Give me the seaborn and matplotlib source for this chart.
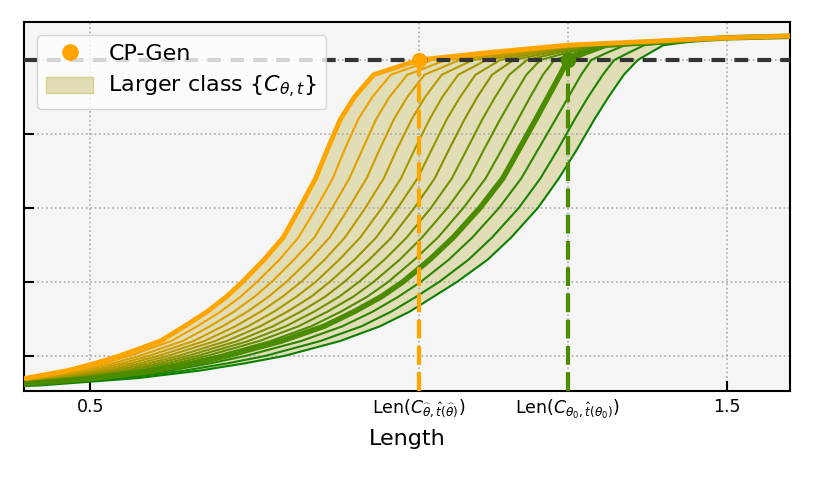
"""
Coverage against length for the class of prediction sets C_{theta,t}
"""

import numpy as np
import matplotlib
matplotlib.use("Agg")
import matplotlib.pyplot as plt
import matplotlib.colors as mcolors
from matplotlib.lines import Line2D
from matplotlib.patches import Patch
import seaborn as sns

# coverage levels shared by every curve
levels = [0.455, 0.46, 0.47, 0.48, 0.49, 0.50, 0.52, 0.54, 0.56, 0.58, 0.60, 0.63,
          0.66, 0.70, 0.74, 0.78, 0.82, 0.85, 0.88, 0.90, 0.91, 0.92, 0.93, 0.935]

# length reached at each level, CP-Gen (theta hat)
len_cpgen = [0.30, 0.33, 0.40, 0.464, 0.508, 0.546, 0.610, 0.648, 0.684, 0.714, 0.739, 0.773,
             0.803, 0.829, 0.854, 0.873, 0.893, 0.915, 0.945, 1.016, 1.125, 1.25, 1.50, 1.70]

# theta_0
len_theta0 = [0.30, 0.37, 0.51, 0.60, 0.662, 0.714, 0.80, 0.867, 0.915, 0.957, 0.991, 1.033,
              1.070, 1.112, 1.148, 1.174, 1.200, 1.219, 1.238, 1.25, 1.278, 1.31, 1.50, 1.75]

# the other members of the class, left to right
len_t1 = [0.30, 0.334, 0.41, 0.476, 0.522, 0.561, 0.627, 0.668, 0.705, 0.736, 0.762, 0.797,
          0.827, 0.855, 0.881, 0.900, 0.921, 0.943, 0.972, 1.037, 1.139, 1.255, 1.50, 1.705]
len_t2 = [0.30, 0.337, 0.42, 0.489, 0.536, 0.577, 0.645, 0.688, 0.726, 0.758, 0.785, 0.820,
          0.852, 0.880, 0.907, 0.928, 0.949, 0.970, 0.998, 1.059, 1.153, 1.261, 1.50, 1.709]
len_t3 = [0.30, 0.341, 0.43, 0.501, 0.550, 0.592, 0.662, 0.708, 0.747, 0.780, 0.808, 0.844,
          0.876, 0.906, 0.934, 0.955, 0.977, 0.998, 1.025, 1.080, 1.167, 1.266, 1.50, 1.714]
len_t4 = [0.30, 0.345, 0.44, 0.513, 0.564, 0.607, 0.679, 0.728, 0.768, 0.802, 0.831, 0.868,
          0.900, 0.932, 0.961, 0.982, 1.005, 1.026, 1.052, 1.101, 1.181, 1.272, 1.50, 1.718]
len_t5 = [0.30, 0.348, 0.45, 0.526, 0.578, 0.622, 0.696, 0.748, 0.789, 0.824, 0.854, 0.891,
          0.924, 0.958, 0.988, 1.010, 1.033, 1.053, 1.078, 1.122, 1.195, 1.277, 1.50, 1.723]
len_t6 = [0.30, 0.352, 0.46, 0.538, 0.592, 0.638, 0.714, 0.767, 0.810, 0.847, 0.876, 0.915,
          0.949, 0.983, 1.014, 1.037, 1.060, 1.081, 1.105, 1.144, 1.208, 1.283, 1.50, 1.727]
len_t7 = [0.30, 0.355, 0.47, 0.551, 0.606, 0.653, 0.731, 0.787, 0.831, 0.869, 0.899, 0.938,
          0.973, 1.009, 1.041, 1.064, 1.088, 1.108, 1.131, 1.165, 1.222, 1.288, 1.50, 1.732]
len_t8 = [0.30, 0.359, 0.48, 0.563, 0.620, 0.668, 0.748, 0.807, 0.852, 0.891, 0.922, 0.962,
          0.997, 1.035, 1.068, 1.092, 1.116, 1.136, 1.158, 1.186, 1.236, 1.294, 1.50, 1.736]
len_t9 = [0.30, 0.363, 0.49, 0.575, 0.634, 0.683, 0.765, 0.827, 0.873, 0.913, 0.945, 0.986,
          1.021, 1.061, 1.095, 1.119, 1.144, 1.164, 1.185, 1.207, 1.250, 1.299, 1.50, 1.741]
len_t10 = [0.30, 0.366, 0.50, 0.588, 0.648, 0.699, 0.783, 0.847, 0.894, 0.935, 0.968, 1.009,
           1.046, 1.086, 1.121, 1.147, 1.172, 1.191, 1.211, 1.229, 1.264, 1.305, 1.50, 1.745]
len_t12 = [0.283, 0.387, 0.532, 0.624, 0.689, 0.744, 0.831, 0.896, 0.944, 0.984, 1.019, 1.063,
           1.100, 1.142, 1.177, 1.204, 1.231, 1.251, 1.271, 1.287, 1.312, 1.34, 1.50, 1.72]
len_t13 = [0.267, 0.403, 0.553, 0.647, 0.716, 0.775, 0.861, 0.926, 0.973, 1.012, 1.048, 1.094,
           1.131, 1.173, 1.207, 1.235, 1.261, 1.282, 1.305, 1.323, 1.346, 1.37, 1.49, 1.68]
len_t14 = [0.25, 0.42, 0.575, 0.671, 0.743, 0.805, 0.892, 0.955, 1.002, 1.039, 1.076, 1.124,
           1.161, 1.203, 1.236, 1.265, 1.292, 1.314, 1.338, 1.36, 1.38, 1.40, 1.49, 1.65]

target = 0.9
len_hat = 1.016
len_zero = 1.25
tick_pos = [0.5, len_hat, len_zero, 1.5]
tick_labels = ["0.5",
               r"Len($C_{\widehat{\theta},\hat{t}(\widehat{\theta})}$)",
               r"Len($C_{\theta_0,\hat{t}(\theta_0)}$)",
               "1.5"]
ytick_pos = [0.5, 0.6, 0.7, 0.8, 0.9]

ORANGE = "#ffa500"
GREEN = "#4b8b00"
FILL = "#e1ddb7"

sns.set_theme(style="ticks")
plt.rcParams["font.family"] = ["DejaVu Sans"]
plt.rcParams["mathtext.fontset"] = "dejavusans"
plt.rcParams["text.color"] = "black"
plt.rcParams["axes.labelcolor"] = "black"
plt.rcParams["xtick.color"] = "black"
plt.rcParams["ytick.color"] = "black"

fig = plt.figure(figsize=(8.14, 4.88), dpi=100)
ax = fig.add_axes([0.0295, 0.199, 0.941, 0.756])
ax.set_facecolor("#f5f5f5")

# the region swept by the class
ax.fill_betweenx(levels, len_cpgen, len_t14, color=FILL, edgecolor="none", zorder=1)

cmap = mcolors.LinearSegmentedColormap.from_list("og", [ORANGE, "#0a8000"])
thin = [len_t1, len_t2, len_t3, len_t4, len_t5, len_t6, len_t7, len_t8, len_t9, len_t10,
        None, len_t12, len_t13, len_t14]
for i, xs in enumerate(thin, start=1):
    if xs is None:
        continue
    sns.lineplot(x=xs, y=levels, sort=False, estimator=None, color=cmap(i / 14),
                 linewidth=1.5, ax=ax, zorder=2)

sns.lineplot(x=len_theta0, y=levels, sort=False, estimator=None, color=GREEN,
             linewidth=4, ax=ax, zorder=3)
sns.lineplot(x=len_cpgen, y=levels, sort=False, estimator=None, color=ORANGE,
             linewidth=3.5, ax=ax, zorder=3)

ymin, ymax = 0.4527, 0.9514
ax.axhline(target, color="#333333", linewidth=3, dashes=(3.3, 2.2), zorder=4)
ax.plot([len_hat, len_hat], [ymin, target], color=ORANGE, linewidth=3, dashes=(4.5, 1.8), zorder=4)
ax.plot([len_zero, len_zero], [ymin, target], color=GREEN, linewidth=3, dashes=(4.5, 1.8), zorder=4)
ax.plot([len_hat], [target], "o", color=ORANGE, markersize=10, zorder=5)
ax.plot([len_zero], [target], "o", color=GREEN, markersize=10, zorder=5)

ax.set_xlim(0.396, 1.599)
ax.set_ylim(ymin, ymax)
ax.set_xticks(tick_pos)
ax.set_xticklabels(tick_labels, fontsize=12.5)
ax.set_yticks(ytick_pos)
ax.set_yticklabels([])
ax.tick_params(direction="in", length=7, width=1.5, colors="black", pad=5)
ax.grid(True, linestyle=":", color="#aaaaaa", linewidth=1.2)
ax.set_axisbelow("line")
for s in ax.spines.values():
    s.set_linewidth(1.5)
    s.set_color("black")

ax.set_xlabel("Length", fontsize=16, labelpad=6)
ax.set_ylabel("")

handles = [Line2D([], [], linestyle="none", marker="o", color=ORANGE, markersize=11),
           Patch(facecolor=FILL, edgecolor="#d8d28e", linewidth=1)]
ax.legend(handles, ["CP-Gen", r"Larger class $\{C_{\theta,t}\}$"], loc="upper left",
          fontsize=16, framealpha=0.8, fancybox=True, borderaxespad=0.6,
          handlelength=2.1, handletextpad=0.7, labelspacing=0.45)

fig.savefig("out.png", dpi=100)
